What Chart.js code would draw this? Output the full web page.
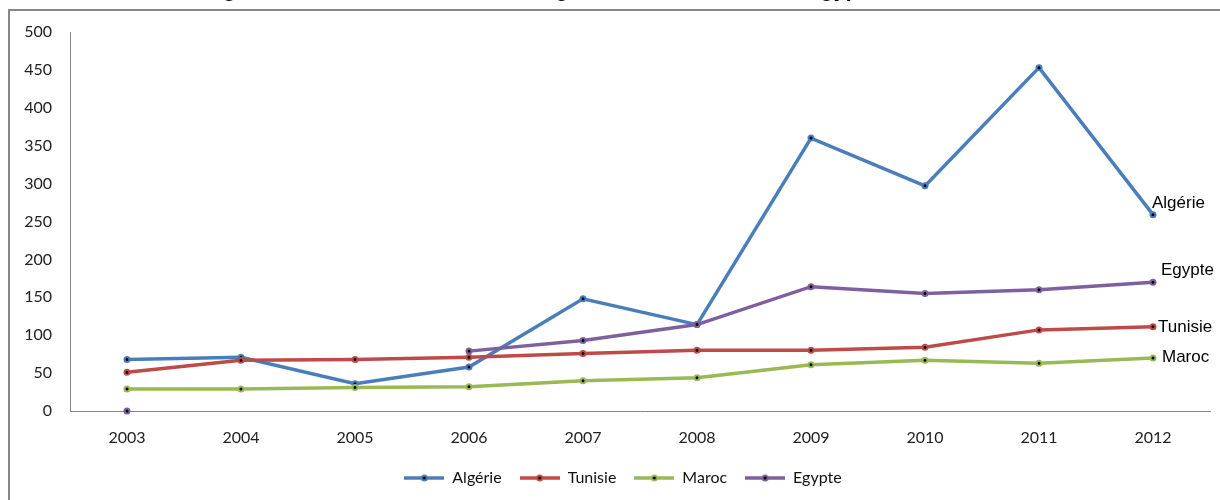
<!DOCTYPE html>
<html>
<head>
<meta charset="utf-8">
<script src="https://cdn.jsdelivr.net/npm/chart.js@4.4.0/dist/chart.umd.min.js"></script>
<style>
  html, body { margin: 0; padding: 0; background: #fff; }
  #wrap { width: 1220px; height: 500px; position: relative; }
</style>
</head>
<body>
<div id="wrap"><canvas id="chart"></canvas></div>
<script>
// Flux annuels par pays
const years   = ['2003', '2004', '2005', '2006', '2007', '2008', '2009', '2010', '2011', '2012'];
const algerie = [68, 71, 36, 58, 148, 114, 360, 297, 453, 259];
const tunisie = [51, 67, 68, 71, 76, 80, 80, 84, 107, 111];
const maroc   = [29, 29, 31, 32, 40, 44, 61, 67, 63, 70];
const egypte  = [0, null, null, 79, 93, 114, 164, 155, 160, 170];
const seriesNames = ['Algérie', 'Tunisie', 'Maroc', 'Egypte'];
const titleText = 'Figure 1 : Evolution des IDE en Algérie, Tunisie, Maroc et Egypte';

const seriesData = [algerie, tunisie, maroc, egypte];
const colors = ['#4A7EBB', '#BE4B48', '#98B954', '#7D60A0'];
// offsets (px) of the name written next to each series' last point
const endLabelOffsets = [[-1, -11], [5, 0], [9, -1], [8, -12]];

// legend swatch: line segment with the series marker in its middle
function legendSwatch(color) {
  const c = document.createElement('canvas');
  c.width = 40; c.height = 10;
  const g = c.getContext('2d');
  g.strokeStyle = color; g.lineWidth = 3.5;
  g.beginPath(); g.moveTo(0, 5); g.lineTo(40, 5); g.stroke();
  g.beginPath(); g.arc(20, 5, 3.5, 0, Math.PI * 2); g.fillStyle = color; g.fill();
  g.beginPath(); g.arc(20, 5, 1.6, 0, Math.PI * 2); g.fillStyle = '#000'; g.fill();
  return c;
}
const swatches = colors.map(legendSwatch);

const datasets = seriesNames.map((name, i) => ({
  label: name,
  data: seriesData[i],
  borderColor: colors[i],
  backgroundColor: colors[i],
  borderWidth: 3.5,
  pointRadius: 2.5,
  pointBorderWidth: 2,
  pointBackgroundColor: '#000',
  pointBorderColor: colors[i],
  pointHoverRadius: 2.5,
  tension: 0,
  spanGaps: false,
  clip: false,
  order: seriesNames.length - i
}));

// frame around the chart and the heading above it
const framePlugin = {
  id: 'frame',
  beforeDraw(chart) {
    const ctx = chart.ctx;
    ctx.save();
    ctx.fillStyle = '#fff';
    ctx.fillRect(0, 0, chart.width, chart.height);
    ctx.font = 'bold italic 22px "Liberation Sans", Arial, sans-serif';
    ctx.fillStyle = '#000';
    ctx.textAlign = 'left';
    ctx.textBaseline = 'alphabetic';
    ctx.fillText(titleText, 205, -4);
    ctx.strokeStyle = '#878787';
    ctx.lineWidth = 2;
    ctx.beginPath();
    ctx.moveTo(9, chart.height + 2);
    ctx.lineTo(9, 10);
    ctx.lineTo(chart.width + 2, 10);
    ctx.stroke();
    ctx.restore();
  }
};

// the legend row is centred over the framed area rather than the whole canvas
const legendSpanPlugin = {
  id: 'legendSpan',
  afterLayout(chart) {
    if (chart.legend) chart.legend.left = 36;
  }
};

// series names written beside the last point of each line
const endLabelsPlugin = {
  id: 'endLabels',
  afterDatasetsDraw(chart) {
    const ctx = chart.ctx;
    ctx.save();
    ctx.font = '17px "Liberation Sans", Arial, sans-serif';
    ctx.fillStyle = '#000';
    ctx.textAlign = 'left';
    ctx.textBaseline = 'middle';
    chart.data.datasets.forEach((ds, i) => {
      const meta = chart.getDatasetMeta(i);
      const pt = meta.data[meta.data.length - 1];
      const [dx, dy] = endLabelOffsets[i];
      ctx.fillText(ds.label, pt.x + dx, pt.y + dy);
    });
    ctx.restore();
  }
};

new Chart(document.getElementById('chart'), {
  type: 'line',
  data: { labels: years, datasets },
  plugins: [framePlugin, legendSpanPlugin, endLabelsPlugin],
  options: {
    responsive: true,
    maintainAspectRatio: false,
    animation: false,
    layout: { padding: { left: 0, right: 10, top: 32, bottom: 4 } },
    plugins: {
      title: { display: false },
      tooltip: { enabled: false },
      legend: {
        display: true,
        position: 'bottom',
        labels: {
          usePointStyle: true,
          pointStyleWidth: 40,
          boxHeight: 10,
          padding: 18,
          color: '#111',
          font: { family: 'Lato, "Open Sans", sans-serif', size: 16 },
          generateLabels: chart => chart.data.datasets.map((ds, i) => ({
            text: ds.label,
            pointStyle: swatches[i],
            datasetIndex: i,
            hidden: false,
            lineWidth: 0,
            fillStyle: colors[i],
            strokeStyle: colors[i],
            fontColor: '#111'
          }))
        }
      }
    },
    scales: {
      x: {
        offset: true,
        grid: { display: false, drawTicks: false },
        border: { display: true, color: '#868686', width: 1 },
        ticks: {
          padding: 17,
          color: '#222',
          maxRotation: 0,
          font: { family: 'Lato, "Open Sans", sans-serif', size: 16 }
        },
        afterFit(scale) { scale.height = 41; }
      },
      y: {
        min: 0,
        max: 500,
        grid: { display: false, drawTicks: false },
        border: { display: true, color: '#868686', width: 1 },
        ticks: {
          stepSize: 50,
          padding: 18,
          color: '#222',
          font: { family: 'Lato, "Open Sans", sans-serif', size: 16 }
        },
        afterFit(scale) { scale.width = 70; }
      }
    }
  }
});
</script>
</body>
</html>
